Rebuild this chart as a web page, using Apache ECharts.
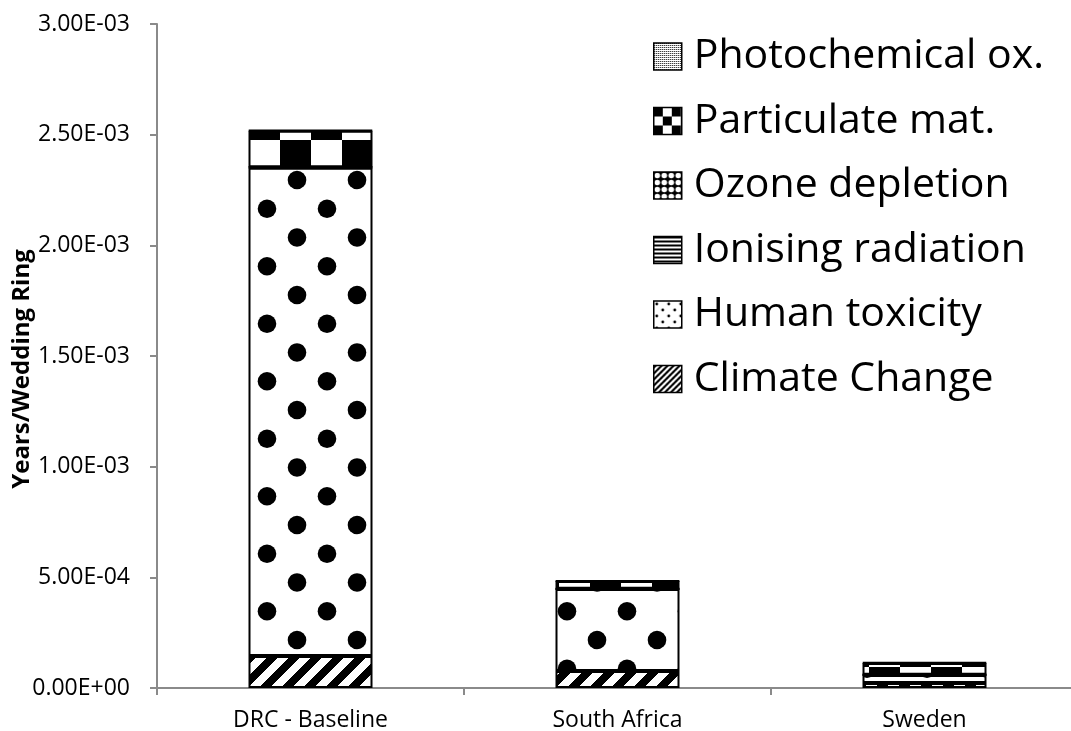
<!DOCTYPE html>
<html>
<head>
<meta charset="utf-8">
<script src="https://cdn.jsdelivr.net/npm/echarts@6/dist/echarts.min.js"></script>
<style>
  html, body { margin: 0; padding: 0; background: #fff; }
  #chart { width: 1071px; height: 731px; }
</style>
</head>
<body>
<div id="chart"></div>
<script>
// ---- data ----
const categories = ['DRC - Baseline', 'South Africa', 'Sweden'];
const climateChange     = [1.45e-4, 7.7e-5, 2.3e-5];
const humanToxicity     = [2.205e-3, 3.70e-4, 3.6e-5];
const ionisingRadiation = [3e-6, 1e-6, 1e-6];
const ozoneDepletion    = [1e-7, 1e-7, 1e-7];
const particulateMat    = [1.65e-4, 3.5e-5, 5.3e-5];
const photochemicalOx   = [2e-6, 1e-6, 2e-6];
const yMin = 0, yMax = 0.003, yStep = 0.0005;
const seriesNames = ['Climate Change', 'Human toxicity', 'Ionising radiation', 'Ozone depletion', 'Particulate mat.', 'Photochemical ox.'];
const legendOrder = ['Photochemical ox.', 'Particulate mat.', 'Ozone depletion', 'Ionising radiation', 'Human toxicity', 'Climate Change'];

// ---- pattern helpers ----
function tile(w, h, draw) {
  const c = document.createElement('canvas');
  c.width = w; c.height = h;
  const ctx = c.getContext('2d');
  ctx.fillStyle = '#fff';
  ctx.fillRect(0, 0, w, h);
  draw(ctx, w, h);
  return c;
}
function pixelTile(w, h, fn) {
  return tile(w, h, (ctx) => {
    const img = ctx.getImageData(0, 0, w, h);
    for (let y = 0; y < h; y++) for (let x = 0; x < w; x++) {
      const v = fn(x, y) ? 0 : 255;
      const i = (y * w + x) * 4;
      img.data[i] = v; img.data[i + 1] = v; img.data[i + 2] = v; img.data[i + 3] = 255;
    }
    ctx.putImageData(img, 0, 0);
  });
}
function dotsTile(w, h, dots, r, bg, fg) {
  return tile(w, h, (ctx) => {
    ctx.fillStyle = bg; ctx.fillRect(0, 0, w, h);
    ctx.fillStyle = fg;
    dots.forEach(([dx, dy]) => {
      for (let ox = -w; ox <= w; ox += w) for (let oy = -h; oy <= h; oy += h) {
        ctx.beginPath(); ctx.arc(dx + ox, dy + oy, r, 0, Math.PI * 2); ctx.fill();
      }
    });
  });
}
const pat = (c) => ({ image: c, repeat: 'repeat' });

// big patterns for bars
const bigHatch = pixelTile(22, 22, (x, y) => ((x + y) % 22) < 11);
const bigDots = dotsTile(120, 115, [[57, 7.5], [117, 7.5], [57, 65], [117, 65], [27, 36.25], [87, 36.25], [27, 93.75], [87, 93.75]], 9.3, '#fff', '#000');
const bigChecker = pixelTile(62, 62, (x, y) => ((Math.floor((x - 32 + 620) / 31) + Math.floor((y - 16 + 620) / 31)) % 2) === 0);
const bigStripes = pixelTile(8, 12, (x, y) => (y % 12) < 5);
const bigOzone = dotsTile(24, 24, [[12, 12]], 8, '#000', '#fff');
const bigStipple = pixelTile(6, 6, (x, y) => (x % 3 === 0 && y % 3 === 0));

// small patterns for legend icons
const smHatch = pixelTile(6, 6, (x, y) => ((x + y) % 6) < 3);
const smDots = dotsTile(12, 12, [[3, 3], [9, 9]], 1.4, '#fff', '#000');
const smChecker = pixelTile(18, 18, (x, y) => ((Math.floor(x / 9) + Math.floor(y / 9)) % 2) === 0);
const smStripes = pixelTile(4, 4, (x, y) => (y % 4) < 2);
const smOzone = dotsTile(7, 7, [[3.5, 3.5]], 2.8, '#000', '#fff');
const smStipple = pixelTile(2, 2, (x, y) => (x + y) % 2 === 0 && x === 0);

const barPatterns = {
  'Climate Change': bigHatch, 'Human toxicity': bigDots, 'Ionising radiation': bigStripes,
  'Ozone depletion': bigOzone, 'Particulate mat.': bigChecker, 'Photochemical ox.': bigStipple
};
const legendPatterns = {
  'Climate Change': smHatch, 'Human toxicity': smDots, 'Ionising radiation': smStripes,
  'Ozone depletion': smOzone, 'Particulate mat.': smChecker, 'Photochemical ox.': smStipple
};
const seriesData = {
  'Climate Change': climateChange, 'Human toxicity': humanToxicity, 'Ionising radiation': ionisingRadiation,
  'Ozone depletion': ozoneDepletion, 'Particulate mat.': particulateMat, 'Photochemical ox.': photochemicalOx
};

function fmtExp(v) {
  const s = Number(v).toExponential(2).toUpperCase();
  const m = s.match(/^(-?[\d.]+)E([+-])(\d+)$/);
  if (!m) return s;
  return m[1] + 'E' + m[2] + (m[3].length < 2 ? '0' + m[3] : m[3]);
}

const chart = echarts.init(document.getElementById('chart'), null, { renderer: 'canvas' });
const axisGray = '#8a8a8a';
chart.setOption({
  animation: false,
  backgroundColor: '#fff',
  textStyle: { fontFamily: 'Open Sans' },
  grid: { left: 157, top: 24, width: 921, height: 664, containLabel: false, outerBoundsMode: 'none' },
  legend: {
    orient: 'vertical',
    left: 653, top: 36,
    padding: 0,
    icon: 'rect',
    itemWidth: 28, itemHeight: 27,
    itemGap: 23.5,
    selectedMode: false,
    textStyle: { fontFamily: 'Open Sans', fontSize: 41, color: '#000', padding: [0, 0, 0, 7] },
    data: legendOrder.map(n => ({
      name: n,
      itemStyle: { color: pat(legendPatterns[n]), borderColor: '#000', borderWidth: 1.5 }
    }))
  },
  xAxis: {
    type: 'category',
    data: categories,
    axisLine: { lineStyle: { color: axisGray, width: 2 } },
    axisTick: { show: true, length: 7, lineStyle: { color: axisGray, width: 2 } },
    axisLabel: { fontFamily: 'Open Sans', fontSize: 23, color: '#000', margin: 21 },
    splitLine: { show: false }
  },
  yAxis: {
    type: 'value',
    min: yMin, max: yMax, interval: yStep,
    name: 'Years/Wedding Ring',
    nameLocation: 'middle',
    nameRotate: 90,
    nameGap: 123,
    nameMoveOverlap: false,
    nameTextStyle: { fontFamily: 'Open Sans', fontWeight: 'bold', fontSize: 24, color: '#000', padding: [0, 26, 0, 0] },
    axisLine: { show: true, lineStyle: { color: axisGray, width: 2 } },
    axisTick: { show: true, length: 7, lineStyle: { color: axisGray, width: 2 } },
    axisLabel: { fontFamily: 'Open Sans', fontSize: 23, color: '#000', margin: 27, formatter: fmtExp },
    splitLine: { show: false }
  },
  series: seriesNames.map(n => ({
    name: n,
    type: 'bar',
    stack: 'total',
    barWidth: 124,
    data: seriesData[n],
    itemStyle: { color: pat(barPatterns[n]), borderColor: '#000', borderWidth: 2 },
    emphasis: { disabled: true }
  }))
});
</script>
</body>
</html>
